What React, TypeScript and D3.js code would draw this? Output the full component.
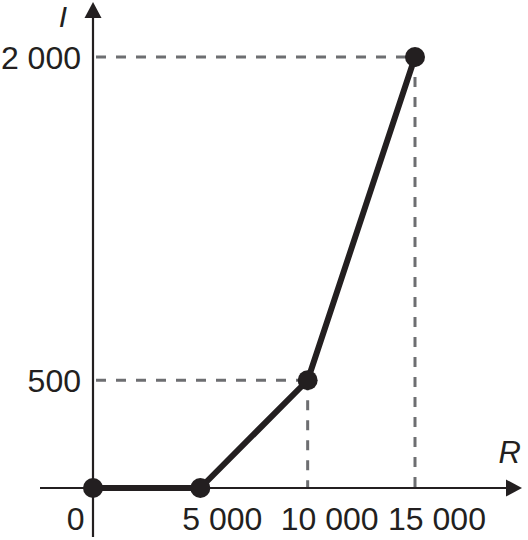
import * as d3 from "d3";

const rValues = [0, 5000, 10000, 15000];
const iValues = [0, 0, 500, 2000];
const xTickValues = [5000, 10000, 15000];
const yTickValues = [500, 2000];

const width = 528;
const height = 540;

const ink = "#231f20";
const guide = "#6d6e71";
const font = "'Liberation Sans', Arial, Helvetica, sans-serif";

const fmt = d3.formatLocale({
  decimal: ",",
  thousands: " ",
  grouping: [3],
  currency: ["", ""],
}).format(",");

export default function App() {
  // axis origin sits at (93, 488) in the picture
  const x = d3.scaleLinear().domain([0, 15000]).range([93, 415]);
  const y = d3.scaleLinear().domain([0, 2000]).range([488, 57]);

  const points = rValues.map((r, i) => ({ r, v: iValues[i] }));
  const line = d3
    .line<{ r: number; v: number }>()
    .x((d) => x(d.r))
    .y((d) => y(d.v));

  const ox = x(0);
  const oy = y(0);
  const xEnd = 522;
  const yEnd = 2;

  return (
    <svg
      width={width}
      height={height}
      viewBox={`0 0 ${width} ${height}`}
      style={{ position: "absolute", left: 0, top: 0, background: "#fff" }}
    >
      {/* guides */}
      {points
        .filter((p) => p.v > 0)
        .map((p, i) => (
          <g key={i} stroke={guide} strokeWidth={3} strokeDasharray="10 10">
            <line x1={ox + 3} y1={y(p.v)} x2={x(p.r)} y2={y(p.v)} />
            <line x1={x(p.r)} y1={y(p.v)} x2={x(p.r)} y2={oy} />
          </g>
        ))}

      {/* axes */}
      <line x1={40} y1={oy} x2={xEnd - 12} y2={oy} stroke={ink} strokeWidth={2.2} />
      <path
        d={`M${xEnd},${oy} L${xEnd - 16},${oy - 8.5} L${xEnd - 16},${oy + 8.5} Z`}
        fill={ink}
      />
      <line x1={ox} y1={537} x2={ox} y2={yEnd + 12} stroke={ink} strokeWidth={2.2} />
      <path
        d={`M${ox},${yEnd} L${ox - 8.5},${yEnd + 16} L${ox + 8.5},${yEnd + 16} Z`}
        fill={ink}
      />

      {/* data */}
      <path
        d={line(points) ?? ""}
        fill="none"
        stroke={ink}
        strokeWidth={6}
        strokeLinejoin="round"
      />
      {points.map((p, i) => (
        <circle key={i} cx={x(p.r)} cy={y(p.v)} r={10} fill={ink} />
      ))}

      {/* labels */}
      <g fontFamily={font} fontSize={32} fill={ink}>
        <text x={ox} y={530} dx={-8.5} textAnchor="end">
          {fmt(0)}
        </text>
        {xTickValues.map((v) => (
          <text key={v} x={x(v)} y={530} dx={22} textAnchor="middle">
            {fmt(v)}
          </text>
        ))}
        {yTickValues.map((v) => (
          <text key={v} x={ox} y={y(v)} dx={-12} dy={11.5} textAnchor="end">
            {fmt(v)}
          </text>
        ))}
        <text x={ox - 26} y={27} textAnchor="end" fontStyle="italic" fontSize={30}>
          I
        </text>
        <text x={521} y={463} textAnchor="end" fontStyle="italic" fontSize={31}>
          R
        </text>
      </g>
    </svg>
  );
}
